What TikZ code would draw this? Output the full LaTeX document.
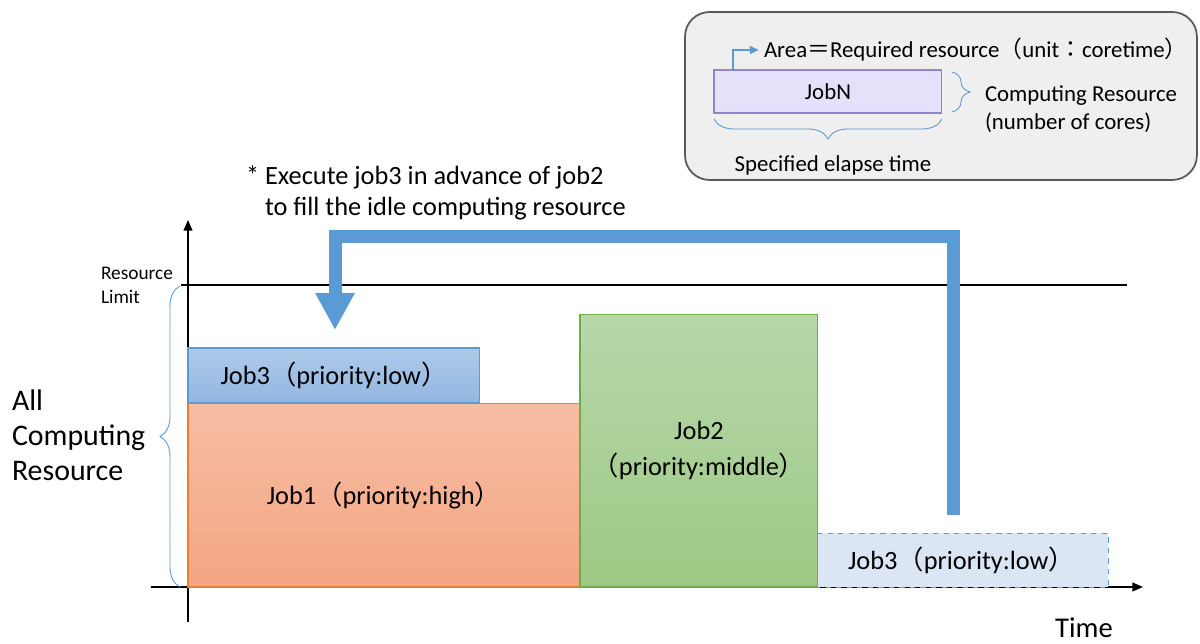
\documentclass[tikz,border=0pt]{standalone}
\usepackage{fontspec}
\setmainfont{Carlito}
\newfontfamily\cjk{Noto Sans CJK JP}
\usetikzlibrary{arrows.meta,decorations.pathreplacing}
\newcommand\fw[1]{{\cjk #1}}
\definecolor{ablue}{HTML}{5B9BD5}
\definecolor{oTop}{HTML}{F6BEA4}
\definecolor{oBot}{HTML}{F4A582}
\definecolor{oLine}{HTML}{ED7D31}
\definecolor{bTop}{HTML}{AECAEA}
\definecolor{bBot}{HTML}{92B6E1}
\definecolor{gTop}{HTML}{B7D7A9}
\definecolor{gBot}{HTML}{9DC985}
\definecolor{gLine}{HTML}{70AD47}
\definecolor{lbFill}{HTML}{DAE6F4}
\definecolor{lavFill}{HTML}{E6E0FA}
\definecolor{lavLine}{HTML}{8E86C8}
\definecolor{legFill}{HTML}{EFEFEF}
\definecolor{legLine}{HTML}{595959}
\begin{document}
\begin{tikzpicture}[x=0.02cm,y=-0.02cm,
  jobbox/.style={inner sep=0pt, outer sep=0pt, anchor=south west, align=center,
    font=\fontsize{15}{20.4}\selectfont, line width=0.6pt},
  axis/.style={line width=0.8pt, -{Triangle[length=6pt,width=5pt]}},
  bracestyle/.style={draw=ablue, line width=0.5pt, decorate},
  txt/.style={inner sep=0pt, outer sep=0pt},
  bigarrow/.style={draw=ablue, line width=7.4pt, miter limit=10,
    -{Triangle[length=21pt,width=21pt]}}
]
\useasboundingbox (0,0) rectangle (1200,644);

% legend
\node[txt, draw=legLine, fill=legFill, line width=1pt, rounded corners=14pt,
  minimum width=10.24cm, minimum height=3.36cm, anchor=north west] (legend) at (685,12) {};
\node[txt, draw=lavLine, fill=lavFill, line width=0.6pt, minimum width=4.56cm,
  minimum height=0.86cm, anchor=north west, font=\fontsize{13}{15}\selectfont] (jobn) at (714,70) {JobN};
\node[txt, anchor=west, font=\fontsize{13}{15}\selectfont] (area) at (764,50)
  {Area\fw{＝}Required resource\fw{（}unit\fw{：}coretime\fw{）}};
\draw[draw=ablue, line width=0.6pt, -{Triangle[length=5pt,width=4.5pt]}]
  ([xshift=0.38cm]jobn.north west) |- ([xshift=-3pt]area.west);
\draw[bracestyle, decoration={brace, amplitude=0.36cm}] (952,72) -- (952,112);
\draw[bracestyle, decoration={brace, amplitude=0.4cm}] (942,119) -- (714,119);
\node[txt, anchor=west, align=left, font=\fontsize{13}{15.9}\selectfont] (cr) at (985,109)
  {Computing Resource\\(number of cores)};
\node[txt, font=\fontsize{13}{15}\selectfont] (set) at (833,165) {Specified elapse time};

% note
\node[txt, anchor=west, align=left, font=\fontsize{15}{18}\selectfont] (note) at (246,193)
  {* Execute job3 in advance of job2\\\hphantom{* }to fill the idle computing resource};

% axes and limit
\coordinate (o) at (188,587);
\draw[axis] (188,622) -- (188,220);
\draw[axis] (151,587) -- (1143,587);
\draw[line width=0.7pt] (181,285) -- (1127,285);
\node[txt, anchor=west, align=left, font=\fontsize{11}{13.6}\selectfont] (rl) at (101,285)
  {Resource\\Limit};
\draw[bracestyle, decoration={brace, amplitude=0.4cm}] (180,587) -- (180,286);
\node[txt, anchor=west, align=left, font=\fontsize{17}{20}\selectfont] (acr) at (12,435)
  {All\\Computing\\Resource};
\node[txt, font=\fontsize{16.3}{18}\selectfont] (time) at (1084,628) {Time};

% jobs
\node[jobbox, draw=oLine, top color=oTop, bottom color=oBot,
  minimum width=7.84cm, minimum height=3.68cm] (job1) at (188,587)
  {Job1\fw{（}priority:high\fw{）}};
\node[jobbox, draw=ablue, top color=bTop, bottom color=bBot,
  minimum width=5.84cm, minimum height=1.1cm] (job3a) at (188,403)
  {Job3\fw{（}priority:low\fw{）}};
\node[jobbox, draw=ablue, dashed, fill=lbFill, line width=0.5pt,
  minimum width=5.86cm, minimum height=1.08cm] (job3b) at (815,587)
  {Job3\fw{（}priority:low\fw{）}};
\node[jobbox, draw=gLine, top color=gTop, bottom color=gBot,
  minimum width=4.76cm, minimum height=5.46cm] (job2) at (580,587)
  {Job2\\\fw{（}priority:middle\fw{）}};

% big arrow
\coordinate (from) at (953,515);
\coordinate (corner) at (335,237);
\coordinate (to) at (335,330);
\draw[bigarrow] (from) |- (corner) -- (to);
\end{tikzpicture}
\end{document}
